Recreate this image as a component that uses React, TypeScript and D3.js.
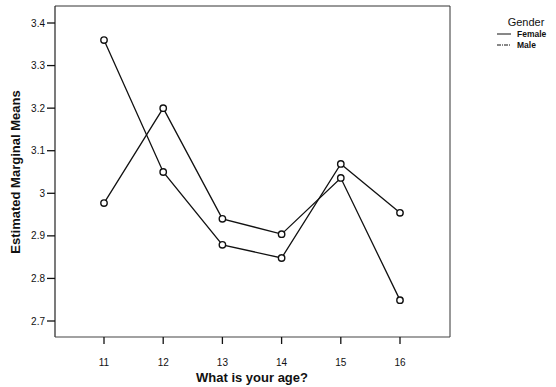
import React from "react";
import * as d3 from "d3";

const ages = [11, 12, 13, 14, 15, 16];
const femaleMeans = [3.36, 3.05, 2.879, 2.848, 3.069, 2.954];
const maleMeans = [2.977, 3.2, 2.94, 2.904, 3.036, 2.749];
const yTicks = [2.7, 2.8, 2.9, 3.0, 3.1, 3.2, 3.3, 3.4];
const yTickLabels = ["2.7", "2.8", "2.9", "3", "3.1", "3.2", "3.3", "3.4"];
const seriesNames = ["Female", "Male"];

const W = 556;
const H = 387;
const frame = { left: 55, top: 6, right: 450, bottom: 337 };
const font = "Liberation Sans, Arial, Helvetica, sans-serif";

export default function App() {
  const x = d3.scaleLinear().domain([11, 16]).range([104, 400]);
  const y = d3.scaleLinear().domain([2.7, 3.4]).range([321, 23]);
  const line = d3
    .line<number>()
    .x((_, i) => x(ages[i]))
    .y((d) => y(d));
  const series = [femaleMeans, maleMeans];

  return (
    <svg
      width={W}
      height={H}
      style={{ position: "absolute", left: 0, top: 0, background: "#fff" }}
      fontFamily={font}
    >
      {/* plot frame */}
      <line x1={frame.left} x2={frame.right} y1={frame.top} y2={frame.top} stroke="#333" strokeWidth={1} />
      <line x1={frame.right} x2={frame.right} y1={frame.top} y2={frame.bottom} stroke="#333" strokeWidth={1} />
      <line x1={frame.left} x2={frame.left} y1={frame.top} y2={frame.bottom} stroke="#222" strokeWidth={1.2} />
      <line x1={frame.left} x2={frame.right} y1={frame.bottom} y2={frame.bottom} stroke="#444" strokeWidth={1.2} />

      {/* y axis */}
      {yTicks.map((t, i) => (
        <g key={t}>
          <line x1={frame.left - 8} x2={frame.left} y1={y(t)} y2={y(t)} stroke="#111" strokeWidth={1.3} />
          <text
            x={frame.left - 10}
            y={y(t)}
            dy="0.35em"
            textAnchor="end"
            fontSize={10}
            fill="#111"
          >
            {yTickLabels[i]}
          </text>
        </g>
      ))}

      {/* x axis */}
      {ages.map((a) => (
        <g key={a}>
          <line x1={x(a)} x2={x(a)} y1={frame.bottom} y2={frame.bottom + 7} stroke="#111" strokeWidth={1.3} />
          <text x={x(a)} y={frame.bottom + 29} textAnchor="middle" fontSize={10} fill="#111">
            {a}
          </text>
        </g>
      ))}

      <text x={252} y={382} textAnchor="middle" fontSize={13} fontWeight="bold" fill="#111">
        What is your age?
      </text>
      <text
        transform={`translate(20,172) rotate(-90)`}
        textAnchor="middle"
        fontSize={13}
        fontWeight="bold"
        fill="#111"
      >
        Estimated Marginal Means
      </text>

      {/* mean profiles */}
      {series.map((s, si) => (
        <g key={seriesNames[si]}>
          <path d={line(s) ?? ""} fill="none" stroke="#111" strokeWidth={1.3} />
          {s.map((v, i) => (
            <circle
              key={i}
              cx={x(ages[i])}
              cy={y(v)}
              r={3.2}
              fill="#fff"
              stroke="#111"
              strokeWidth={1.4}
            />
          ))}
        </g>
      ))}

      {/* legend */}
      <text x={526} y={26} textAnchor="middle" fontSize={11} fill="#111">
        Gender
      </text>
      {seriesNames.map((n, i) => (
        <g key={n}>
          <line
            x1={497}
            x2={511}
            y1={34 + i * 11}
            y2={34 + i * 11}
            stroke="#111"
            strokeWidth={1}
            strokeDasharray={i === 1 ? "4,1,1,1" : undefined}
          />
          <text x={517} y={34 + i * 11} dy="0.35em" fontSize={8.5} fontWeight="bold" fill="#111">
            {n}
          </text>
        </g>
      ))}
    </svg>
  );
}
